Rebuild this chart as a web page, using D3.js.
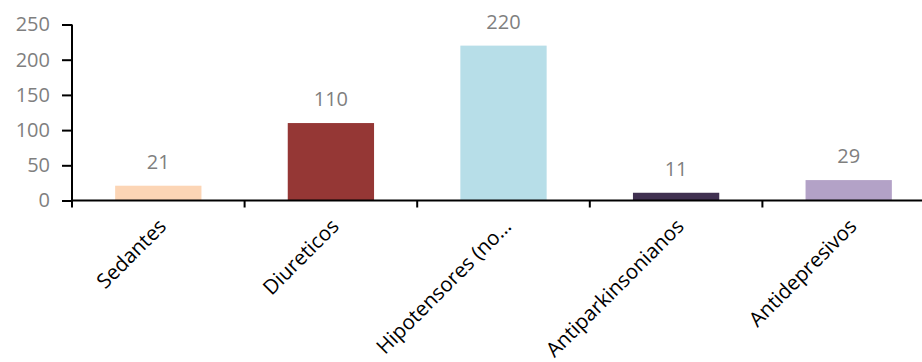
<!DOCTYPE html>
<html>
<head>
<meta charset="utf-8">
<script src="https://cdn.jsdelivr.net/npm/d3@7"></script>
<style>
  html, body { margin: 0; padding: 0; background: #fff; }
  svg { display: block; }
</style>
</head>
<body>
<svg id="chart" width="922" height="362"></svg>
<script>
// Drug groups and counts
const categories = ["Sedantes", "Diureticos", "Hipotensores (no…", "Antiparkinsonianos", "Antidepresivos"];
const values = [21, 110, 220, 11, 29];
const colors = ["#FCD5B5", "#953735", "#B7DEE8", "#403151", "#B3A2C7"];
const yTicks = [0, 50, 100, 150, 200, 250];

const svg = d3.select("#chart");
const font = "'Open Sans', sans-serif";

const x0 = 72, yBase = 200.5, yTop = 24.5, band = 172.6;
const x = d3.scaleBand()
  .domain(categories)
  .range([x0, x0 + band * categories.length])
  .paddingInner(0.5)
  .paddingOuter(0.25);
const y = d3.scaleLinear().domain([0, 250]).range([yBase, yTop]);

// Bars
svg.append("g").selectAll("rect")
  .data(categories)
  .join("rect")
  .attr("x", d => x(d))
  .attr("width", x.bandwidth())
  .attr("y", (d, i) => y(values[i]))
  .attr("height", (d, i) => yBase - y(values[i]))
  .attr("fill", (d, i) => colors[i]);

// Value labels
svg.append("g").selectAll("text")
  .data(categories)
  .join("text")
  .attr("x", d => x(d) + x.bandwidth() / 2)
  .attr("y", (d, i) => y(values[i]) - 17)
  .attr("text-anchor", "middle")
  .attr("font-family", font)
  .attr("font-size", 20)
  .attr("fill", "#7f7f7f")
  .text((d, i) => values[i]);

// Y axis
const yAxis = svg.append("g")
  .attr("transform", `translate(${x0},0)`)
  .call(d3.axisLeft(y).tickValues(yTicks).tickSize(10).tickPadding(12));
yAxis.select(".domain").attr("stroke", "#000").attr("stroke-width", 2)
  .attr("d", `M0,${yTop}V${yBase + 7}`);
yAxis.selectAll(".tick line").attr("stroke", "#000").attr("stroke-width", 2);
yAxis.selectAll(".tick text")
  .attr("font-family", font).attr("font-size", 20).attr("fill", "#7f7f7f");

// X axis: line along zero with ticks between categories
const xg = svg.append("g");
xg.append("line")
  .attr("x1", x0).attr("x2", 922)
  .attr("y1", yBase).attr("y2", yBase)
  .attr("stroke", "#000").attr("stroke-width", 2);
const boundaries = d3.range(1, categories.length).map(i => x0 + band * i);
xg.selectAll("line.tick")
  .data(boundaries)
  .join("line")
  .attr("class", "tick")
  .attr("x1", d => d).attr("x2", d => d)
  .attr("y1", yBase).attr("y2", yBase + 7)
  .attr("stroke", "#000").attr("stroke-width", 2);

// Category labels, rotated
xg.selectAll("text")
  .data(categories)
  .join("text")
  .attr("transform", d => `translate(${x(d) + x.bandwidth() / 2 - 1},${yBase + 17}) rotate(-45)`)
  .attr("text-anchor", "end")
  .attr("dy", "0.7em")
  .attr("font-family", font)
  .attr("font-size", 20.5)
  .attr("fill", "#000")
  .text(d => d);
</script>
</body>
</html>
